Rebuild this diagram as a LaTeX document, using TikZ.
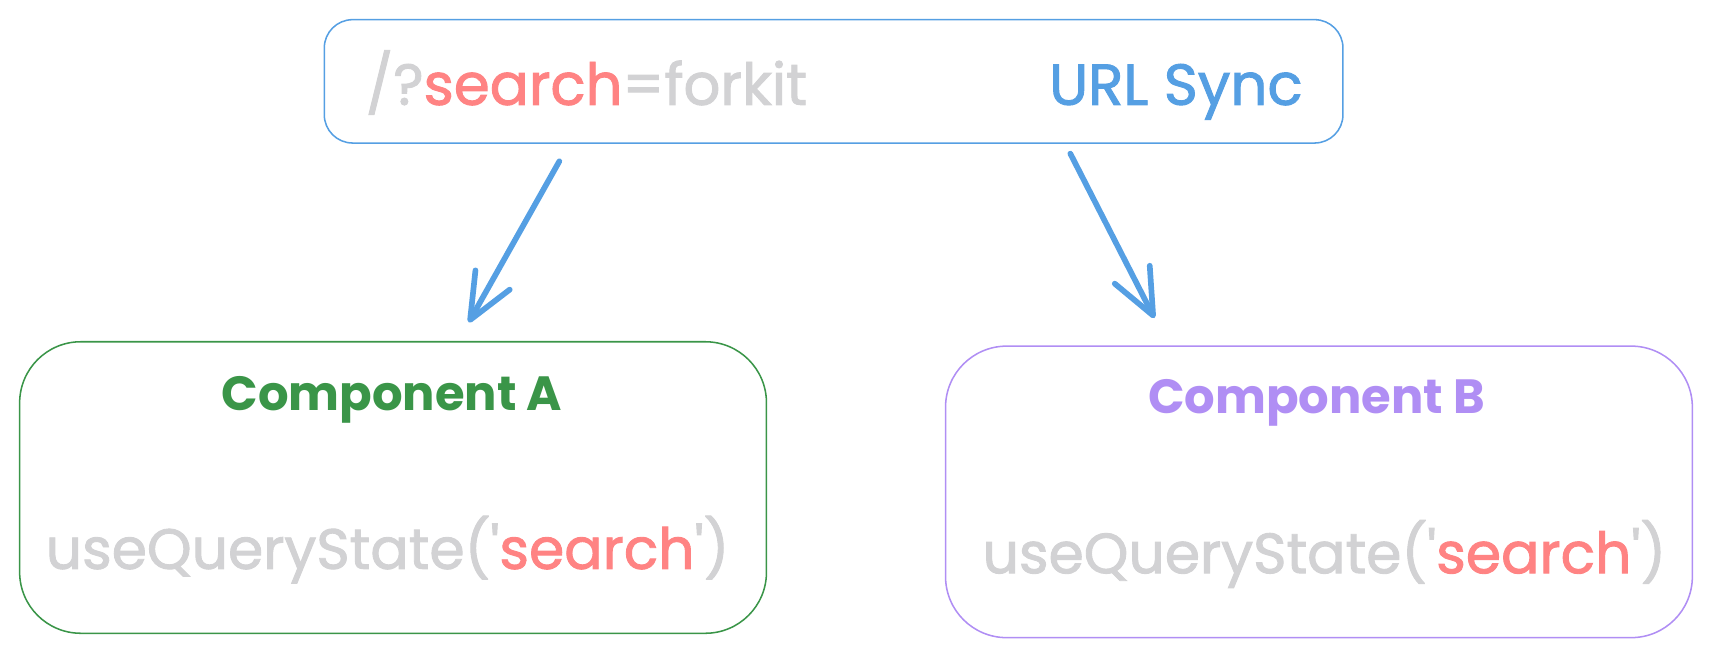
\documentclass[tikz,border=0pt]{standalone}
\usepackage{fontspec}
\setmainfont{Poppins}
\newfontfamily\heavyfont{Poppins}[FakeBold=1.6]
\usetikzlibrary{arrows.meta,calc}
\definecolor{cblue}{HTML}{559FE3}
\definecolor{cgreen}{HTML}{3A9548}
\definecolor{cviolet}{HTML}{B08EF4}
\definecolor{cred}{HTML}{FF8383}
\definecolor{cgray}{HTML}{D2D2D4}
\tikzset{
  box/.style={draw, line width=1.4pt, inner sep=0pt, fill=white},
  lbl/.style={inner sep=0pt, outer sep=0pt},
  arr/.style={draw=cblue, line width=5.2pt, line cap=round, line join=round,
    -{Straight Barb[length=42pt, width=36pt, line width=5.2pt, round]}},
}
\begin{document}
\begin{tikzpicture}[x=1pt,y=-1pt]
\useasboundingbox (0,0) rectangle (1568,602.7);
% boxes
\node[box, draw=cblue, rounded corners=26pt, minimum width=933pt, minimum height=113pt] (url) at (763.5,74.5) {};
\node[box, draw=cgreen, rounded corners=56pt, minimum width=684pt, minimum height=267pt] (A) at (360,446.5) {};
\node[box, draw=cviolet, rounded corners=56pt, minimum width=684pt, minimum height=267pt] (B) at (1208,450.5) {};
% texts
\node[lbl, anchor=base west, font=\heavyfont\fontsize{53}{56}\selectfont] (q) at (335,96)
  {\textcolor{cgray}{/?}\textcolor{cred}{search}\textcolor{cgray}{=forkit}};
\node[lbl, anchor=base east, font=\heavyfont\fontsize{53}{56}\selectfont, text=cblue] (sync) at (1193,96) {URL Sync};
\node[lbl, anchor=base, font=\fontsize{44}{48}\selectfont\bfseries, text=cgreen] (tA) at (359,376) {Component A};
\node[lbl, anchor=base, font=\fontsize{44}{48}\selectfont\bfseries, text=cviolet] (tB) at (1206,379) {Component B};
\node[lbl, anchor=base, font=\heavyfont\fontsize{52}{56}\selectfont] (uA) at (355,521)
  {\textcolor{cgray}{useQueryState(\textquotesingle}\textcolor{cred}{search}\textcolor{cgray}{\textquotesingle)}};
\node[lbl, anchor=base, font=\heavyfont\fontsize{52}{56}\selectfont] (uB) at (1213,525)
  {\textcolor{cgray}{useQueryState(\textquotesingle}\textcolor{cred}{search}\textcolor{cgray}{\textquotesingle)}};
% arrows
\draw[arr] ($(url.south west)+(216,16)$) -- ($(A.north west)+(412,-17)$);
\draw[arr] ($(url.south west)+(684,9)$) -- ($(B.north west)+(192,-25)$);
\end{tikzpicture}
\end{document}
